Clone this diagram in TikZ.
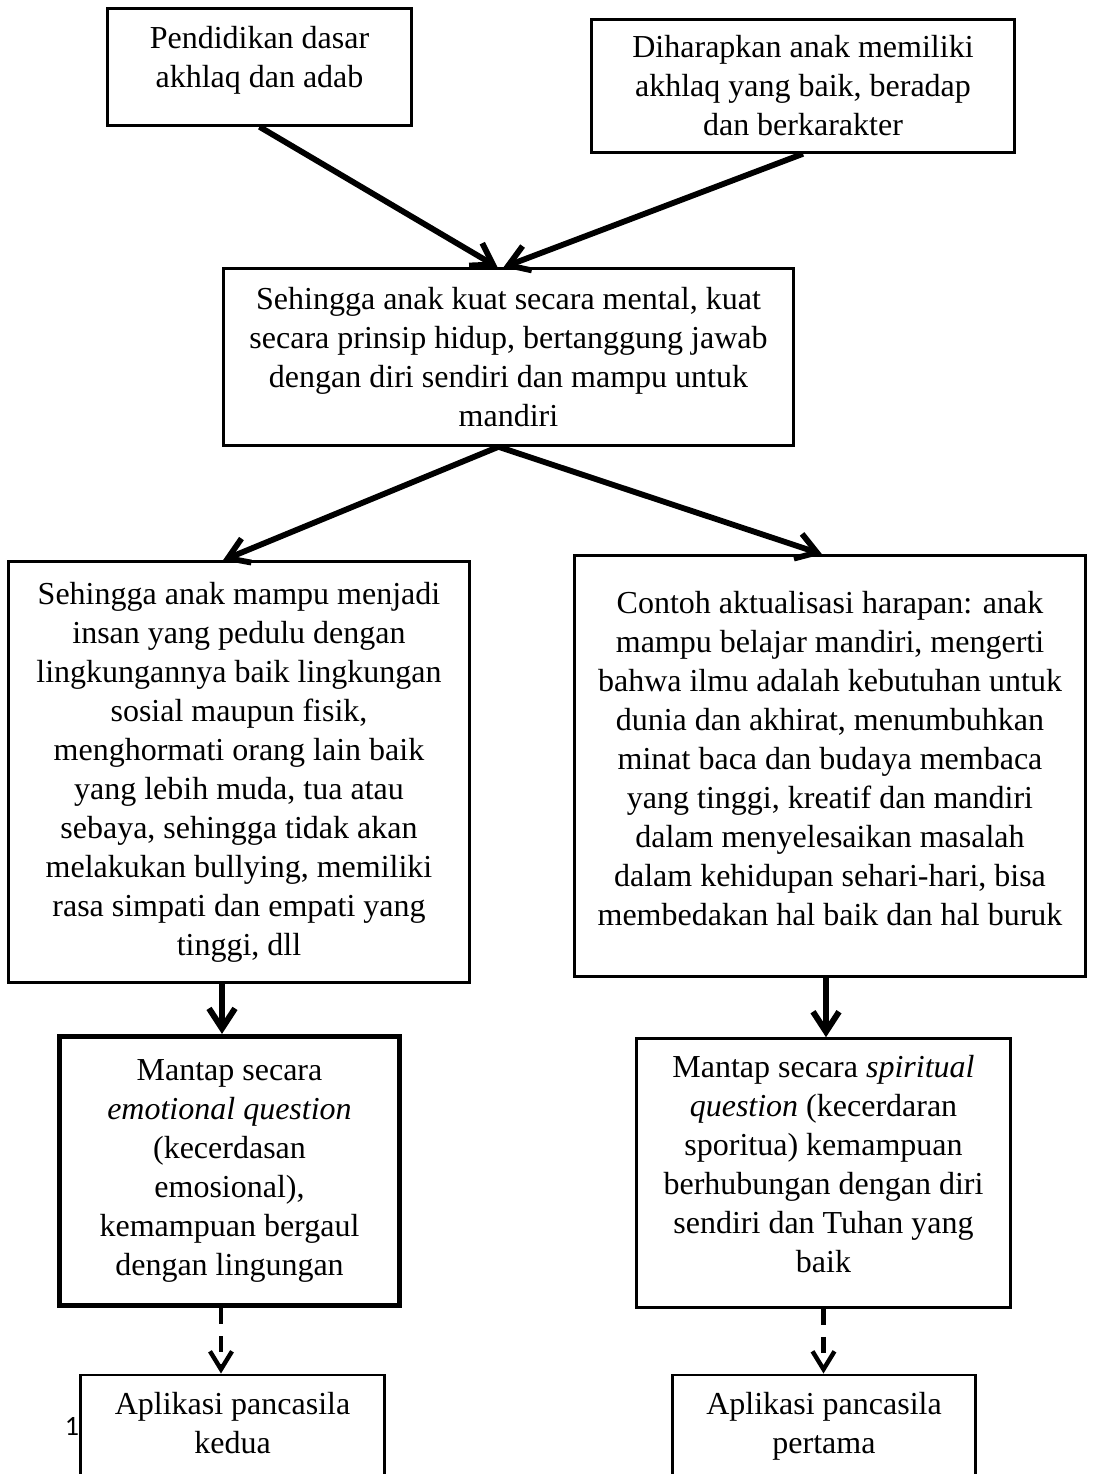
\documentclass[tikz,border=0pt]{standalone}
\usepackage{fontspec}
\setmainfont{Liberation Serif}
\newfontfamily\pnfont{Carlito}
\usetikzlibrary{arrows.meta,calc}
\begin{document}
\begin{tikzpicture}[x=0.5pt,y=-0.5pt,
  box/.style={draw=black,line width=1.3pt,rectangle,align=center,inner sep=0pt,
    font=\fontsize{16}{19.5}\selectfont},
  thickbox/.style={box,line width=2.6pt},
  arr/.style={line width=2.9pt,-{Straight Barb[length=10pt,width=13pt]}},
  varr/.style={line width=3pt,-{Straight Barb[length=10pt,width=13pt]}},
  darr/.style={line width=2.2pt,dash pattern=on 8pt off 6pt,-{Straight Barb[length=9pt,width=11pt]}},
  pagenum/.style={font=\pnfont\fontsize{14}{14}\selectfont,inner sep=0pt,anchor=base}
]
\useasboundingbox (0,0) rectangle (1094,1474);
\clip (0,0) rectangle (1094,1474);

\node[box,minimum width=152pt,minimum height=58.5pt,text depth=10.5pt] (box1) at (259.5,67)
  {Pendidikan dasar\\akhlaq dan adab};
\node[box,minimum width=211.5pt,minimum height=66.5pt] (box2) at (803,86)
  {Diharapkan anak memiliki\\akhlaq yang baik, beradap\\dan berkarakter};
\node[box,minimum width=285pt,minimum height=88.5pt] (box3) at (508.5,357)
  {Sehingga anak kuat secara mental, kuat\\secara prinsip hidup, bertanggung jawab\\dengan diri sendiri dan mampu untuk\\mandiri};
\node[box,minimum width=230.5pt,minimum height=210.5pt] (box4) at (239,772)
  {Sehingga anak mampu menjadi\\insan yang pedulu dengan\\lingkungannya baik lingkungan\\sosial maupun fisik,\\menghormati orang lain baik\\yang lebih muda, tua atau\\sebaya, sehingga tidak akan\\melakukan bullying, memiliki\\rasa simpati dan empati yang\\tinggi, dll};
\node[box,minimum width=255.5pt,minimum height=210.5pt,text depth=8pt] (box5) at (830,766)
  {Contoh aktualisasi harapan: anak\\mampu belajar mandiri, mengerti\\bahwa ilmu adalah kebutuhan untuk\\dunia dan akhirat, menumbuhkan\\minat baca dan budaya membaca\\yang tinggi, kreatif dan mandiri\\dalam menyelesaikan masalah\\dalam kehidupan sehari-hari, bisa\\membedakan hal baik dan hal buruk};
\node[thickbox,minimum width=170pt,minimum height=134.5pt] (box6) at (229.5,1171)
  {Mantap secara\\\textit{emotional question}\\(kecerdasan\\emosional),\\kemampuan bergaul\\dengan lingungan};
\node[box,minimum width=187pt,minimum height=134.5pt,text depth=9pt] (box7) at (823.5,1173)
  {Mantap secara \textit{spiritual}\\\textit{question} (kecerdaran\\sporitua) kemampuan\\berhubungan dengan diri\\sendiri dan Tuhan yang\\baik};
\node[box,anchor=north,minimum width=152pt,inner ysep=8.8pt,text depth=30pt] (box8) at (232.5,1373.5)
  {Aplikasi pancasila\\kedua};
\node[box,anchor=north,minimum width=151.5pt,inner ysep=8.8pt,text depth=30pt] (box9) at (824,1373.5)
  {Aplikasi pancasila\\pertama};
\node[pagenum] (pg) at (72,1435) {1};

\draw[arr] (box1.south) -- ($(box3.north)+(-11,0)$);
\draw[arr] (box2.south) -- ($(box3.north)+(-5,0)$);
\coordinate (s3) at ($(box3.south)+(-10,0)$);
\draw[arr] (s3) -- ($(box4.north)+(-16,0)$);
\draw[arr] (s3) -- ($(box5.north)+(-8,0)$);
\coordinate (s4) at ($(box4.south)+(-17,0)$);
\draw[varr] (s4) -- (s4 |- box6.north);
\coordinate (s5) at ($(box5.south)+(-4,0)$);
\draw[varr] (s5) -- (s5 |- box7.north);
\coordinate (s6) at ($(box6.south)+(-8.5,0)$);
\draw[darr] (s6) -- (s6 |- box8.north);
\draw[darr] (box7.south) -- (box7.south |- box9.north);
\end{tikzpicture}
\end{document}
